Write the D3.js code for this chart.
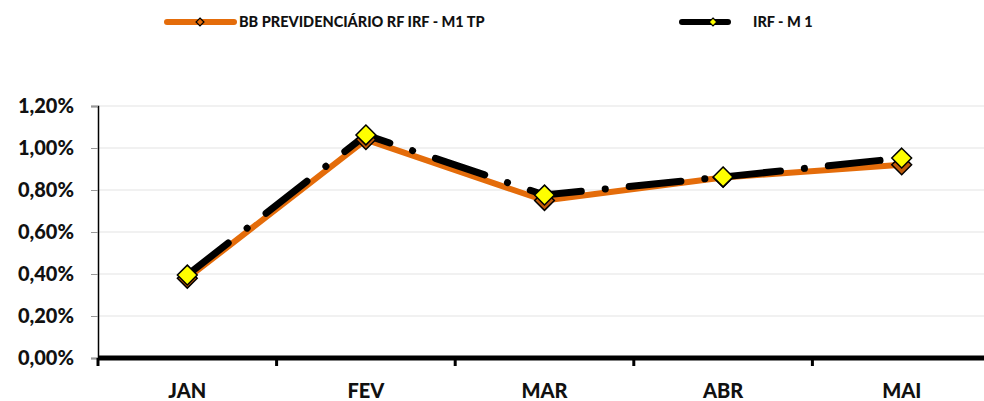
<!DOCTYPE html>
<html>
<head>
<meta charset="utf-8">
<script src="https://cdn.jsdelivr.net/npm/d3@7"></script>
<style>
  body { margin: 0; background: #fff; }
  svg { display: block; font-family: Lato, "Open Sans", sans-serif; font-weight: bold; }
</style>
</head>
<body>
<script>
const width = 984;
const height = 401;

const months = ['JAN', 'FEV', 'MAR', 'ABR', 'MAI'];
const fundo = [0.38, 1.04, 0.75, 0.86, 0.92];
const irfm1 = [0.395, 1.062, 0.776, 0.862, 0.952];
const yTicks = [0, 0.2, 0.4, 0.6, 0.8, 1.0, 1.2];
const seriesNames = ['BB PREVIDENCIÁRIO RF IRF - M1 TP', 'IRF - M 1'];

const orange = '#e46c0a';

const svg = d3.select('body')
    .append('svg')
    .attr('width', width)
    .attr('height', height);

const x = d3.scaleBand().domain(months).range([98, 991]);
const y = d3.scaleLinear().domain([0, 1.2]).range([358, 106]);

const fmt = v => d3.format('.2f')(v).replace('.', ',') + '%';

// grid
svg.append('g')
    .selectAll('line')
    .data(yTicks.slice(1))
    .join('line')
    .attr('x1', 98).attr('x2', width)
    .attr('y1', d => y(d)).attr('y2', d => y(d))
    .attr('stroke', '#e3e3e3');

// y axis
const yAxis = svg.append('g')
    .attr('transform', 'translate(98,0)')
    .call(d3.axisLeft(y).tickValues(yTicks).tickFormat(fmt).tickSize(7).tickPadding(17));
yAxis.select('.domain').attr('stroke', '#000').attr('stroke-width', 1.5);
yAxis.selectAll('.tick line').attr('stroke', '#999');
yAxis.selectAll('text')
    .attr('font-size', 20)
    .attr('font-family', 'Lato, sans-serif')
    .attr('font-weight', 900)
    .attr('fill', '#111');

// x axis
const xAxis = svg.append('g')
    .attr('transform', 'translate(0,358)');
xAxis.append('line')
    .attr('x1', 98).attr('x2', width)
    .attr('stroke', '#000').attr('stroke-width', 5);
xAxis.selectAll('.xt')
    .data(months)
    .join('line')
    .attr('class', 'xt')
    .attr('x1', d => x(d)).attr('x2', d => x(d))
    .attr('y1', 0).attr('y2', 8)
    .attr('stroke', '#000').attr('stroke-width', 3);
xAxis.selectAll('text')
    .data(months)
    .join('text')
    .attr('x', d => x(d) + x.bandwidth() / 2)
    .attr('y', 40)
    .attr('text-anchor', 'middle')
    .attr('font-size', 20)
    .attr('font-weight', 900)
    .attr('fill', '#111')
    .text(d => d);

const cx = (d, i) => x(months[i]) + x.bandwidth() / 2;
const line = d3.line().x(cx).y(d => y(d));
const diamond = d3.symbol().type(d3.symbolDiamond2).size(250);

// orange series
svg.append('path')
    .datum(fundo)
    .attr('d', line)
    .attr('fill', 'none')
    .attr('stroke', orange)
    .attr('stroke-width', 6)
    .attr('stroke-linejoin', 'round');

// black dash-dot series
svg.append('path')
    .datum(irfm1)
    .attr('d', line)
    .attr('fill', 'none')
    .attr('stroke', '#000')
    .attr('stroke-width', 7)
    .attr('stroke-linecap', 'round')
    .attr('stroke-dasharray', '52,24,0.1,24');

svg.append('g')
    .selectAll('path')
    .data(fundo)
    .join('path')
    .attr('transform', (d, i) => `translate(${cx(d, i)},${y(d)})`)
    .attr('d', diamond)
    .attr('fill', '#c05a08')
    .attr('stroke', '#000')
    .attr('stroke-width', 1.5);

svg.append('g')
    .selectAll('path')
    .data(irfm1)
    .join('path')
    .attr('transform', (d, i) => `translate(${cx(d, i)},${y(d)})`)
    .attr('d', diamond)
    .attr('fill', '#ffff00')
    .attr('stroke', '#000')
    .attr('stroke-width', 1.5);

// legend
const legend = [
    { name: seriesNames[0], x1: 167, x2: 234, m: 200, color: orange, fill: orange, tx: 239 },
    { name: seriesNames[1], x1: 682, x2: 728, m: 713, color: '#000', fill: '#ffff00', tx: 753 }
];
const lg = svg.append('g').selectAll('g').data(legend).join('g');
lg.append('line')
    .attr('x1', d => d.x1).attr('x2', d => d.x2)
    .attr('y1', 22).attr('y2', 22)
    .attr('stroke', d => d.color)
    .attr('stroke-width', 6)
    .attr('stroke-linecap', 'round');
lg.append('path')
    .attr('transform', d => `translate(${d.m},22)`)
    .attr('d', d3.symbol().type(d3.symbolDiamond2).size(40))
    .attr('fill', d => d.fill)
    .attr('stroke', '#000')
    .attr('stroke-width', 1.2);
lg.append('text')
    .attr('x', d => d.tx)
    .attr('y', 27)
    .attr('font-size', 14.5)
    .attr('font-weight', 900)
    .attr('fill', '#111')
    .text(d => d.name);
</script>
</body>
</html>
